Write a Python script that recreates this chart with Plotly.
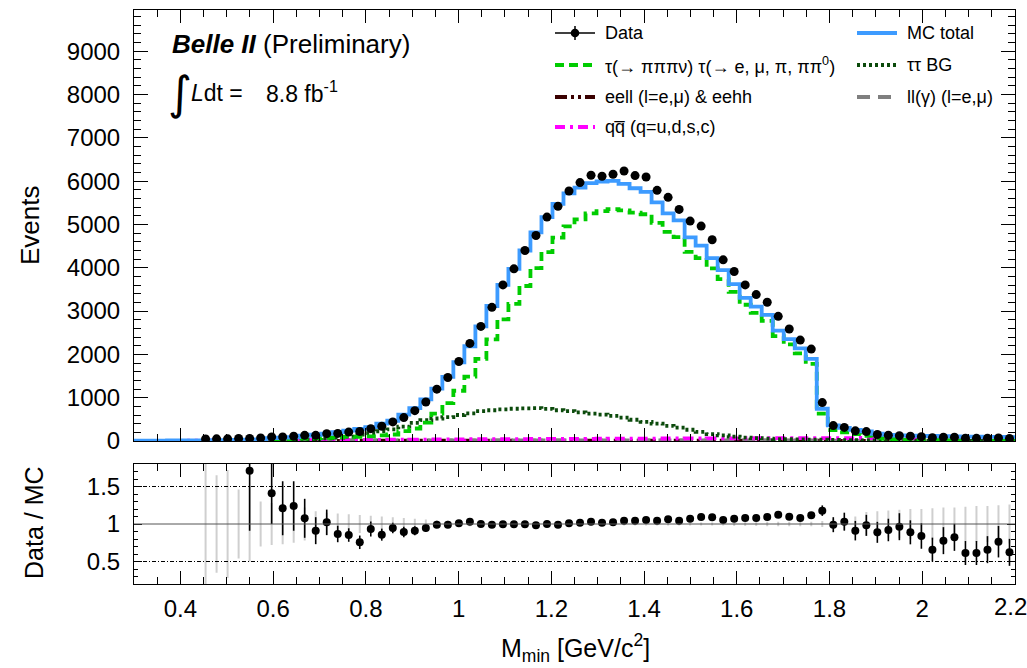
import numpy as np
import plotly.graph_objects as go

# ---------------- data ----------------
X_MIN, X_MAX, N_BINS = 0.3, 2.2, 80
edges = np.linspace(X_MIN, X_MAX, N_BINS + 1)
centers = 0.5 * (edges[:-1] + edges[1:])

data_counts = [0, 0, 0, 0, 0, 0, 45, 50, 50, 57,
               57, 70, 95, 95, 110, 130, 130, 170, 175, 205,
               220, 285, 340, 440, 540, 700, 900, 1197, 1466, 1836,
               2253, 2646, 3086, 3603, 3974, 4398, 4745, 5169, 5417, 5772,
               5965, 6134, 6111, 6157, 6234, 6127, 6095, 5787, 5625, 5347,
               5077, 4961, 4645, 4182, 3912, 3603, 3380, 3202, 2878, 2585,
               2330, 2122, 887, 355, 314, 234, 217, 149, 132, 122,
               111, 101, 76, 86, 88, 63, 61, 63, 72, 57]

mc_total = [8, 9, 10, 11, 12, 14, 16, 18, 20, 23,
            30, 36, 67, 79, 89, 121, 144, 167, 203, 241,
            280, 320, 400, 468, 607, 760, 960, 1209, 1481, 1818,
            2187, 2646, 3117, 3603, 3974, 4398, 4817, 5169, 5472, 5715,
            5848, 5955, 5991, 6007, 5937, 5835, 5750, 5511, 5257, 5092,
            4701, 4510, 4223, 3945, 3622, 3306, 3101, 2911, 2547, 2350,
            2138, 1895, 745, 359, 305, 259, 220, 167, 143, 127,
            125, 120, 115, 110, 106, 102, 99, 96, 93, 90]

signal_3pi = [3, 3, 4, 2, 1, 1, 1, 0, 0, 0,
              2, 4, 23, 29, 32, 53, 63, 70, 84, 100,
              95, 105, 128, 150, 227, 288, 426, 634, 874, 1160,
              1487, 1895, 2345, 2810, 3165, 3578, 3991, 4362, 4694, 4956,
              5118, 5254, 5309, 5355, 5324, 5271, 5235, 5035, 4830, 4706,
              4364, 4222, 3984, 3736, 3443, 3146, 2956, 2775, 2420, 2229,
              2021, 1781, 632, 252, 200, 158, 121, 70, 47, 33,
              33, 28, 24, 20, 16, 13, 12, 9, 6, 3]

tautau_bg = [0, 0, 0, 1, 1, 2, 3, 4, 5, 7,
             9, 12, 16, 20, 25, 35, 45, 60, 80, 100,
             150, 180, 225, 270, 330, 420, 480, 520, 550, 600,
             640, 690, 710, 730, 745, 755, 760, 740, 710, 690,
             660, 630, 610, 580, 540, 490, 440, 400, 350, 310,
             260, 210, 160, 130, 100, 80, 65, 55, 45, 40,
             35, 32, 30, 25, 22, 19, 16, 14, 12, 10,
             9, 8, 7, 6, 5, 5, 4, 4, 3, 3]

eell_eehh = [1, 1, 1, 1, 2, 2, 2, 2, 2, 3,
             3, 3, 4, 4, 5, 5, 5, 5, 5, 6,
             6, 6, 6, 6, 6, 6, 6, 6, 6, 6,
             6, 6, 6, 6, 6, 6, 6, 6, 6, 6,
             6, 6, 6, 6, 6, 6, 6, 6, 6, 6,
             6, 6, 6, 6, 6, 6, 6, 6, 6, 6,
             6, 6, 6, 5, 5, 5, 5, 5, 5, 5,
             5, 5, 5, 5, 5, 5, 4, 4, 4, 4]

ll_gamma = [2, 2, 2, 3, 3, 3, 3, 4, 4, 4,
            5, 5, 6, 7, 8, 9, 10, 11, 12, 12,
            13, 13, 13, 13, 13, 14, 14, 14, 14, 14,
            14, 14, 14, 14, 14, 14, 14, 14, 14, 14,
            14, 14, 14, 13, 13, 13, 13, 13, 13, 12,
            12, 12, 12, 12, 11, 11, 11, 11, 11, 10,
            10, 10, 10, 10, 10, 9, 9, 9, 9, 9,
            8, 8, 8, 8, 8, 7, 7, 7, 7, 7]

qqbar = [2, 3, 3, 4, 5, 6, 7, 8, 9, 10,
         11, 12, 13, 14, 16, 17, 19, 20, 22, 23,
         25, 26, 28, 29, 31, 32, 34, 35, 37, 38,
         40, 41, 42, 43, 44, 45, 46, 47, 48, 49,
         50, 51, 52, 53, 54, 55, 56, 57, 58, 58,
         59, 60, 61, 61, 62, 63, 63, 64, 65, 65,
         66, 66, 67, 67, 68, 68, 69, 69, 70, 70,
         70, 71, 71, 71, 72, 72, 72, 72, 73, 73]

ratio = [None] * 10 + [
    1.71, None, 1.41, 1.21, 1.24, 1.076, 0.911, 1.022, 0.867, 0.853,
    0.756, 0.933, 0.858, 0.947, 0.893, 0.911, 0.947, 0.991, 0.991, 1.009,
    1.031, 1.0, 0.991, 0.996, 0.996, 0.996, 0.982, 1.0, 0.991, 1.009,
    1.018, 1.031, 1.018, 1.022, 1.044, 1.044, 1.053, 1.044, 1.062, 1.044,
    1.071, 1.093, 1.089, 1.053, 1.071, 1.08, 1.08, 1.093, 1.124, 1.098,
    1.08, 1.116, 1.178, 0.991, 1.031, 0.911, 0.982, 0.889, 0.92, 0.964,
    0.889, 0.84, 0.658, 0.778, 0.822, 0.613, 0.613, 0.658, 0.764, 0.622]

ratio_err = [0] * 10 + [
    0.8, 0, 0.41, 0.36, 0.33, 0.26, 0.18, 0.17, 0.11, 0.09,
    0.09, 0.10, 0.08, 0.07, 0.07, 0.06, 0.05, 0.04, 0.035, 0.03,
    0.02, 0.02, 0.02, 0.02, 0.02, 0.02, 0.02, 0.02, 0.02, 0.02,
    0.02, 0.02, 0.02, 0.02, 0.02, 0.02, 0.02, 0.02, 0.02, 0.02,
    0.02, 0.02, 0.02, 0.02, 0.02, 0.02, 0.02, 0.02, 0.02, 0.02,
    0.025, 0.03, 0.07, 0.10, 0.12, 0.13, 0.14, 0.14, 0.15, 0.18,
    0.16, 0.17, 0.16, 0.18, 0.18, 0.16, 0.16, 0.18, 0.21, 0.18]

mc_unc = [None] * 6 + [
    1.0, 0.65, 0.72, 0.46,
    0.5, 0.30, 0.28, 0.27, 0.25, 0.22, 0.17, 0.15, 0.14, 0.13,
    0.12, 0.11, 0.10, 0.09, 0.08, 0.07, 0.06, 0.05, 0.045, 0.04,
    0.03, 0.03, 0.03, 0.025, 0.025, 0.02, 0.02, 0.02, 0.02, 0.02,
    0.02, 0.02, 0.02, 0.02, 0.02, 0.02, 0.02, 0.02, 0.02, 0.02,
    0.02, 0.02, 0.02, 0.02, 0.025, 0.025, 0.025, 0.03, 0.03, 0.03,
    0.03, 0.03, 0.04, 0.07, 0.08, 0.10, 0.16, 0.17, 0.18, 0.19,
    0.20, 0.20, 0.21, 0.22, 0.22, 0.23, 0.24, 0.24, 0.25, 0.26]

x_tickvals = [0.4, 0.6, 0.8, 1.0, 1.2, 1.4, 1.6, 1.8, 2.0, 2.2]
x_ticktext = ["0.4", "0.6", "0.8", "1", "1.2", "1.4", "1.6", "1.8", "2", ""]
edge_label = "2.2"

# ---------------- styling ----------------
FONT = "Liberation Sans, Arial, Helvetica, sans-serif"
C_MC = "#3d9bff"
C_SIG = "#00cc00"
C_TT = "#0b4a0b"
C_EELL = "#3a0000"
C_LLG = "#7f7f7f"
C_QQ = "#ff00ff"
D_SIG = "9px,5px"
D_TT = "3px,3px"
D_EELL = "12px,4px,3px,4px,3px,4px"
D_LLG = "13px,8px"
D_QQ = "10px,5px,3px,5px"

W, H = 1027, 668
L, R, T, B = 134, 1015, 10, 584   # plot area in pixels


def px(xp):
    return (xp - L) / (R - L)


def py(yp):
    return (B - yp) / (B - T)


def step_xy(vals):
    return list(edges), list(vals) + [vals[-1]]


fig = go.Figure()

components = [
    (eell_eehh, C_EELL, D_EELL),
    (ll_gamma, C_LLG, D_LLG),
    (qqbar, C_QQ, D_QQ),
    (tautau_bg, C_TT, D_TT),
    (signal_3pi, C_SIG, D_SIG),
    (mc_total, C_MC, "solid"),
]
for vals, col, dash in components:
    xs, ys = step_xy(vals)
    fig.add_trace(go.Scatter(x=xs, y=ys, mode="lines", line_shape="hv",
                             line=dict(color=col, width=3.8, dash=dash),
                             xaxis="x", yaxis="y", showlegend=False,
                             hoverinfo="skip"))

data_plot = [v if v > 0 else None for v in data_counts]
fig.add_trace(go.Scatter(x=centers, y=data_plot, mode="markers",
                         marker=dict(color="black", size=9),
                         xaxis="x", yaxis="y", showlegend=False))

# ratio panel
fig.add_trace(go.Scatter(x=centers, y=[1 if u is not None else None for u in mc_unc],
                         mode="markers", marker=dict(size=0.1, color="rgba(0,0,0,0)"),
                         error_y=dict(type="data", array=[u if u is not None else 0 for u in mc_unc],
                                      color="#cfcfcf", thickness=2, width=0),
                         xaxis="x2", yaxis="y2", showlegend=False))
fig.add_trace(go.Scatter(x=centers, y=ratio, mode="markers",
                         marker=dict(color="black", size=8),
                         error_y=dict(type="data", array=ratio_err, color="black",
                                      thickness=1.6, width=0),
                         xaxis="x2", yaxis="y2", showlegend=False))

shapes = []
# ratio reference lines
shapes.append(dict(type="line", xref="x2", yref="y2", x0=X_MIN, x1=X_MAX, y0=1, y1=1,
                   line=dict(color="#555555", width=1)))
for yv in (0.5, 1.5):
    shapes.append(dict(type="line", xref="x2", yref="y2", x0=X_MIN, x1=X_MAX, y0=yv, y1=yv,
                       line=dict(color="black", width=1, dash="4px,2px,1px,2px")))

# legend (drawn manually)
annotations = []
col1_x0, col1_x1, col1_t = 555, 595, 603
col2_x0, col2_x1, col2_t = 857, 897, 905
rows = [33, 65, 97, 127]
leg_font = dict(family=FONT, size=18, color="black")


def leg_line(x0, x1, yrow, col, dash, width=3.8):
    shapes.append(dict(type="line", xref="paper", yref="paper",
                       x0=px(x0), x1=px(x1), y0=py(yrow), y1=py(yrow),
                       line=dict(color=col, width=width, dash=dash)))


def leg_text(x, yrow, text):
    annotations.append(dict(xref="paper", yref="paper", x=px(x), y=py(yrow),
                            text=text, showarrow=False, xanchor="left",
                            yanchor="middle", font=leg_font))


# Data entry
leg_line(col1_x0, col1_x1, rows[0], "black", "solid", 1.3)
shapes.append(dict(type="line", xref="paper", yref="paper",
                   x0=px(575), x1=px(575), y0=py(rows[0] - 7), y1=py(rows[0] + 7),
                   line=dict(color="black", width=1.5)))
shapes.append(dict(type="circle", xref="paper", yref="paper",
                   x0=px(575 - 4.3), x1=px(575 + 4.3), y0=py(rows[0] - 4.3), y1=py(rows[0] + 4.3),
                   fillcolor="black", line=dict(color="black", width=0)))
leg_text(col1_t, rows[0], "Data")
leg_line(col2_x0, col2_x1, rows[0], C_MC, "solid")
leg_text(col2_t, rows[0], "MC total")
leg_line(col1_x0, col1_x1, rows[1], C_SIG, D_SIG)
leg_text(col1_t, rows[1], "τ(→ πππν) τ(→ e, μ, π, ππ<sup>0</sup>)")
leg_line(col2_x0, col2_x1, rows[1], C_TT, D_TT)
leg_text(col2_t, rows[1], "ττ BG")
leg_line(col1_x0, col1_x1, rows[2], C_EELL, D_EELL)
leg_text(col1_t, rows[2], "eell (l=e,μ) &amp; eehh")
leg_line(col2_x0, col2_x1, rows[2], C_LLG, D_LLG)
leg_text(col2_t, rows[2], "ll(γ) (l=e,μ)")
leg_line(col1_x0, col1_x1, rows[3], C_QQ, D_QQ)
leg_text(col1_t, rows[3], "qq\u0305 (q=u,d,s,c)")

# Belle II label
annotations.append(dict(xref="paper", yref="paper", x=px(170), y=py(44),
                        text="<b><i>Belle II</i></b> (Preliminary)", showarrow=False,
                        xanchor="left", yanchor="middle",
                        font=dict(family=FONT, size=26, color="black")))
annotations.append(dict(xref="paper", yref="paper", x=px(166), y=py(93),
                        text="∫", showarrow=False, xanchor="left", yanchor="middle",
                        font=dict(family="DejaVu Sans", size=46, color="black")))
annotations.append(dict(xref="paper", yref="paper", x=px(189), y=py(93),
                        text="<i>L</i>dt =", showarrow=False, xanchor="left", yanchor="middle",
                        font=dict(family=FONT, size=23, color="black")))
annotations.append(dict(xref="paper", yref="paper", x=px(264), y=py(92),
                        text="8.8 fb<sup>-1</sup>", showarrow=False, xanchor="left",
                        yanchor="middle", font=dict(family=FONT, size=23, color="black")))

# edge tick label drawn separately so it cannot push the margin
annotations.append(dict(xref="paper", yref="paper", x=px(1010), y=py(606.5),
                        text=edge_label, showarrow=False, xanchor="center", yanchor="middle",
                        font=dict(family=FONT, size=24, color="black")))

# axis titles
annotations.append(dict(xref="paper", yref="paper", x=px(30), y=py(225), text="Events",
                        showarrow=False, textangle=-90, xanchor="center", yanchor="middle",
                        font=dict(family=FONT, size=26, color="black")))
annotations.append(dict(xref="paper", yref="paper", x=px(34), y=py(523), text="Data / MC",
                        showarrow=False, textangle=-90, xanchor="center", yanchor="middle",
                        font=dict(family=FONT, size=25, color="black")))
annotations.append(dict(xref="paper", yref="paper", x=px(575), y=py(648),
                        text="M<sub>min</sub> [GeV/c<sup>2</sup>]",
                        showarrow=False, xanchor="center", yanchor="middle",
                        font=dict(family=FONT, size=25, color="black")))

main_bottom = (B - 441) / (B - T)
ratio_top = (B - 464) / (B - T)

axis_common = dict(showline=True, linecolor="black", linewidth=1, mirror="allticks",
                   ticks="inside", tickcolor="black", zeroline=False, showgrid=False,
                   automargin=False,
                   tickfont=dict(family=FONT, size=24, color="black"))

fig.update_layout(
    width=W, height=H, autosize=False,
    margin=dict(l=L, r=W - R, t=T, b=H - B, pad=0, autoexpand=False),
    paper_bgcolor="white", plot_bgcolor="white",
    showlegend=False,
    xaxis=dict(domain=[0, 1], anchor="y", range=[X_MIN, X_MAX],
               tickvals=x_tickvals, showticklabels=False, ticklen=13,
               minor=dict(dtick=0.05, tick0=0.3, ticks="inside", ticklen=7, tickcolor="black",
                          showgrid=False),
               **axis_common),
    yaxis=dict(domain=[main_bottom, 1], anchor="x", range=[0, 9950],
               tickvals=[0, 1000, 2000, 3000, 4000, 5000, 6000, 7000, 8000, 9000],
               ticktext=["0", "1000", "2000", "3000", "4000", "5000", "6000", "7000", "8000", "9000"],
               ticklen=14, ticklabelstandoff=8,
               minor=dict(dtick=200, tick0=0, ticks="inside", ticklen=7, tickcolor="black",
                          showgrid=False),
               **axis_common),
    xaxis2=dict(domain=[0, 1], anchor="y2", range=[X_MIN, X_MAX], matches="x",
                tickvals=x_tickvals, ticktext=x_ticktext, ticklen=13,
                ticklabelstandoff=3,
                minor=dict(dtick=0.05, tick0=0.3, ticks="inside", ticklen=7, tickcolor="black",
                           showgrid=False),
                **axis_common),
    yaxis2=dict(domain=[0, ratio_top], anchor="x2", range=[0.2, 1.8],
                tickvals=[0.5, 1, 1.5], ticktext=["0.5", "1", "1.5"], ticklen=8,
                ticklabelstandoff=8,
                minor=dict(dtick=0.1, tick0=0, ticks="inside", ticklen=4, tickcolor="black",
                           showgrid=False),
                **axis_common),
    shapes=shapes,
    annotations=annotations,
)

fig.write_html("out.html", config={"responsive": False})
